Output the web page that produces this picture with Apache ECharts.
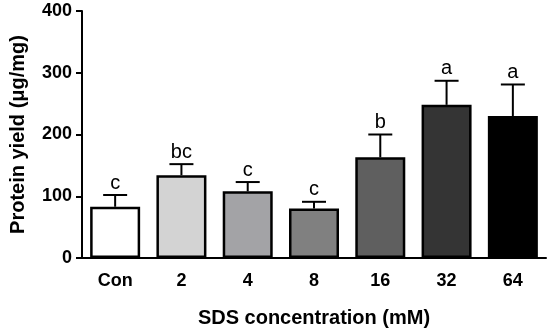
<!DOCTYPE html>
<html><head><meta charset="utf-8">
<script src="https://cdn.jsdelivr.net/npm/echarts@6/dist/echarts.min.js"></script>
<style>html,body{margin:0;padding:0;background:#fff}#c{width:550px;height:333px}</style>
</head><body><div id="c"></div>
<script>
var categories = ['Con', '2', '4', '8', '16', '32', '64'];
var means = [83, 134, 108, 80, 163, 248, 230];
var errUpper = [102, 152, 123, 91, 200, 287, 281];
var letters = ['c', 'bc', 'c', 'c', 'b', 'a', 'a'];
var barColors = ['#ffffff', '#d3d3d3', '#a3a3a6', '#808080', '#5f5f5f', '#343434', '#000000'];
var yTicks = [0, 100, 200, 300, 400];

var chart = echarts.init(document.getElementById('c'), null, {renderer: 'canvas'});
var font = 'Arial, "Liberation Sans", sans-serif';
chart.setOption({
  animation: false,
  grid: {left: 80, right: 4, top: 11, bottom: 73},
  xAxis: {
    type: 'category', data: categories,
    axisLine: {lineStyle: {color: '#000', width: 2}},
    axisTick: {show: false},
    axisLabel: {color: '#000', fontWeight: 'bold', fontSize: 18, fontFamily: font, margin: 14},
    name: 'SDS concentration (mM)', nameLocation: 'middle', nameGap: 50,
    nameTextStyle: {color: '#000', fontWeight: 'bold', fontSize: 20, fontFamily: font}
  },
  yAxis: {
    type: 'value', min: 0, max: 400, interval: 100,
    axisLine: {show: true, lineStyle: {color: '#000', width: 2}},
    axisTick: {show: true, length: 6, lineStyle: {color: '#000', width: 2}},
    splitLine: {show: false},
    axisLabel: {color: '#000', fontWeight: 'bold', fontSize: 18, fontFamily: font, margin: 10,
      formatter: function (v) { return yTicks.indexOf(v) >= 0 ? String(v) : ''; }},
    name: 'Protein yield (\u03bcg/mg)', nameLocation: 'middle', nameGap: 54,
    nameTextStyle: {color: '#000', fontWeight: 'bold', fontSize: 20, fontFamily: font}
  },
  series: [{
    type: 'bar', barWidth: 50,
    data: means.map(function (v, i) {
      return {value: v, itemStyle: {color: barColors[i], borderColor: '#000', borderWidth: 2.5}};
    })
  }, {
    type: 'custom',
    data: means.map(function (v, i) { return [i, v, errUpper[i]]; }),
    renderItem: function (params, api) {
      var i = api.value(0);
      var top = api.coord([i, api.value(1)]);
      var up = api.coord([i, api.value(2)]);
      var hw = 12;
      return {
        type: 'group',
        children: [
          {type: 'line', shape: {x1: top[0], y1: top[1], x2: up[0], y2: up[1]}, style: {stroke: '#000', lineWidth: 2}},
          {type: 'line', shape: {x1: up[0] - hw, y1: up[1], x2: up[0] + hw, y2: up[1]}, style: {stroke: '#000', lineWidth: 2}},
          {type: 'text', style: {text: letters[params.dataIndex], x: up[0], y: up[1] - 2,
            textAlign: 'center', textVerticalAlign: 'bottom', fill: '#000', fontSize: 20, fontFamily: font}}
        ]
      };
    },
    z: 3
  }]
});
</script></body></html>
